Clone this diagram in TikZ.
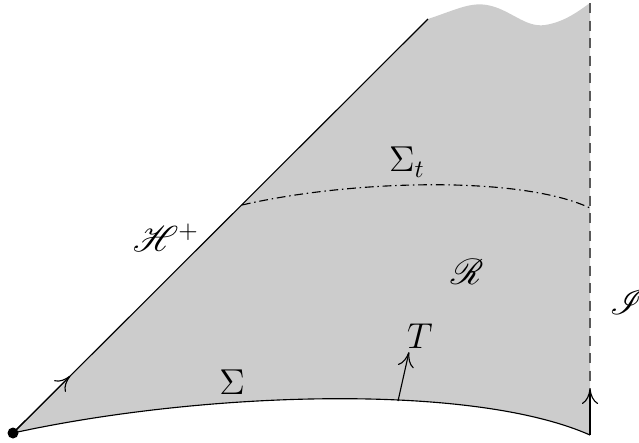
\documentclass[tikz,border=0pt]{standalone}
\usepackage{mathrsfs}
\usetikzlibrary{calc,arrows.meta}
\tikzset{
  region/.style={fill=gray!40, draw=none},
  scri/.style={draw=black!65, line width=0.9pt, dash pattern=on 4pt off 3pt},
  slice/.style={draw=black, line width=0.45pt},
  slicet/.style={draw=black, line width=0.45pt, dash pattern=on 3.5pt off 1.5pt on 0.6pt off 1.5pt},
  lab/.style={inner sep=0pt, font=\Large},
  vec/.style={-{To[length=6pt,width=6.5pt]}, line width=0.45pt}
}
\begin{document}
\begin{tikzpicture}[x=0.4pt,y=-0.4pt]
\useasboundingbox (0,0) rectangle (639,442);
\coordinate (O) at (13,433);
\coordinate (H) at (428,19);
\coordinate (Itop) at (590,3);
\coordinate (Ibot) at (590,435);
\coordinate (St0) at (242,205);
\coordinate (St1) at (590,208);
\coordinate (Tb) at (398,401);
\coordinate (Tt) at (409,352);
\coordinate (Ia) at (590,389);
% shaded region
\path[region] (O) -- (H) .. controls (455,10) and (470,2) .. (487,5)
  .. controls (510,9) and (525,28) .. (545,25)
  .. controls (565,22) and (580,10) .. (Itop) -- (Ibot)
  .. controls (470,382) and (200,392) .. (O) -- cycle;
% horizon
\draw[slice] (O) -- (H);
\draw[vec] (O) -- ($(O)!0.138!(H)$);
% scri
\draw[scri] (Itop) -- (Ibot);
\draw[vec] (Ibot) -- (Ia);
% Sigma
\draw[slice] (O) .. controls (200,392) and (470,382) .. (Ibot);
% Sigma_t
\draw[slicet] (St0) .. controls (350,180) and (520,175) .. (St1);
% T vector
\draw[vec] (Tb) -- (Tt);
% dot
\fill (O) circle (5.5);
% labels
\node[lab] (lH) at (166,238) {$\mathscr{H}^+$};
\node[lab] (lR) at (467,272) {$\mathscr{R}$};
\node[lab] (lI) at (628,302) {$\mathscr{I}$};
\node[lab] (lS) at (232,382) {$\Sigma$};
\node[lab] (lSt) at (407,162) {$\Sigma_t$};
\node[lab] (lT) at (420,336) {$T$};
\end{tikzpicture}
\end{document}
